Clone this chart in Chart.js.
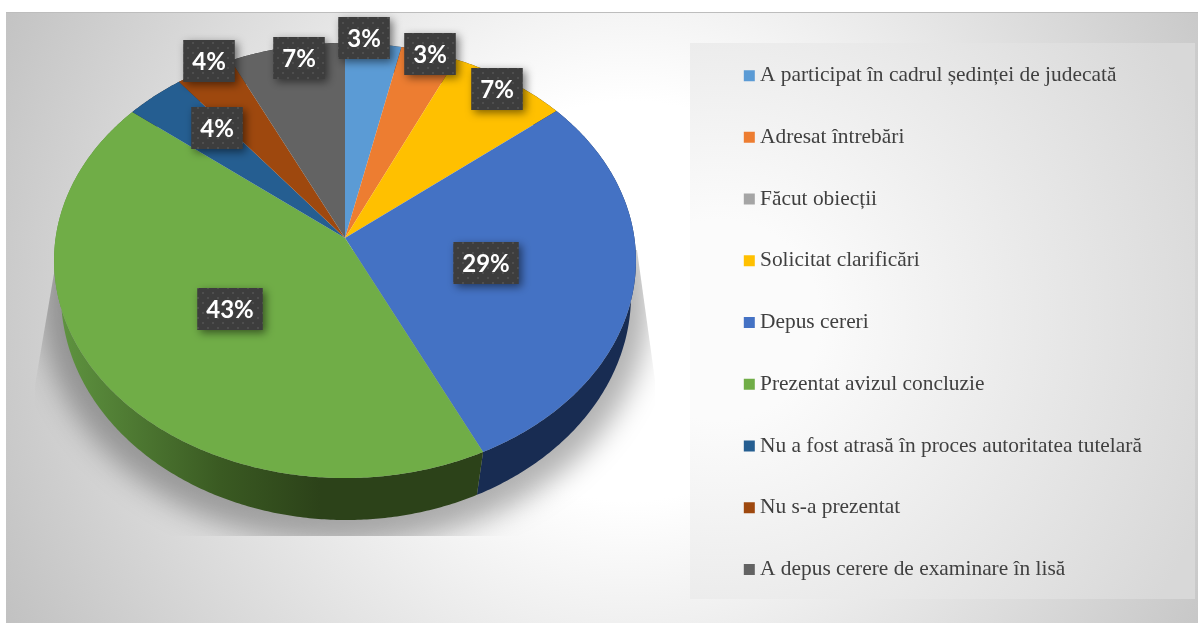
<!DOCTYPE html>
<html>
<head>
<meta charset="utf-8">
<script src="https://cdn.jsdelivr.net/npm/chart.js@4"></script>
<style>
  html, body { margin: 0; background: #fff; overflow: hidden; }
  #slide {
    position: absolute; left: 6px; top: 12px; width: 1192px; height: 611px;
    border-top: 1px solid #bdbdbd; box-sizing: border-box;
    background: radial-gradient(circle 720px at 624px 288px, #fff 0, #fff 200px, #bfbfbf 100%);
  }
  #panel {
    position: absolute; left: 690px; top: 43px; width: 505px; height: 556px;
    background: radial-gradient(circle 520px at 30px 277px, #fbfbfb 0, #fbfbfb 100px, #d8d8d8 100%);
  }
  canvas { position: absolute; left: 0; top: 0; }
</style>
</head>
<body>
<div id="slide"></div>
<div id="panel"></div>
<canvas id="pie" width="1198" height="623"></canvas>
<script>
const categories = [
  'A participat în cadrul ședinței de judecată',
  'Adresat întrebări',
  'Făcut obiecții',
  'Solicitat clarificări',
  'Depus cereri',
  'Prezentat avizul concluzie',
  'Nu a fost atrasă în proces autoritatea tutelară',
  'Nu s-a prezentat',
  'A depus cerere de examinare în lisă'
];
const shares = [3.45, 3.45, 0, 7.3, 28.7, 42.85, 3.65, 3.55, 7.1];

const sliceColors = ['#5b9bd5', '#ed7d31', '#a5a5a5', '#ffc000', '#4472c4', '#70ad47', '#255e91', '#9e480e', '#636363'];
// where the value boxes were dragged to, by slice (centre x, centre y)
const labelSpots = [[364, 38], [430, 54], null, [497, 89], [486, 263], [230, 309], [217, 128], [209, 61], [299, 58]];

// tilted pie: the circle seen in perspective, so the apex is not at the ellipse centre
const topFace = { x: 345, y: 238, rx: 289.4, ry: 215.2, p: -0.1034 };
const lowFace = { x: 346, y: 280, rx: 284.4, ry: 224, p: -0.0667 };

function project(face, a) {
  const k = 1 + face.p * Math.sin(a);
  return [face.x + face.rx * Math.cos(a) / k, face.y + face.ry * Math.sin(a) / k];
}

function rimPoints(face, from, to) {
  const steps = Math.max(2, Math.ceil((to - from) / 0.01));
  const pts = [];
  for (let i = 0; i <= steps; i++) pts.push(project(face, from + (to - from) * i / steps));
  return pts;
}

function tracePoints(ctx, pts) {
  pts.forEach((p, i) => (i ? ctx.lineTo(p[0], p[1]) : ctx.moveTo(p[0], p[1])));
}

function sideColor(ctx, index) {
  if (index === 5) {
    const g = ctx.createLinearGradient(58, 0, 320, 0);
    g.addColorStop(0, '#5f9440');
    g.addColorStop(0.62, '#3a5a22');
    g.addColorStop(1, '#2c4219');
    return g;
  }
  return index === 4 ? '#182c52' : '#333';
}

function drawShadow(ctx) {
  ctx.save();
  ctx.beginPath();
  tracePoints(ctx, [[58, 250], [35, 385], [35, 536], [655, 536], [655, 380], [637, 250]]);
  ctx.closePath();
  ctx.clip();
  ctx.filter = 'blur(14px)';
  ctx.fillStyle = 'rgba(0,0,0,0.3)';
  ctx.beginPath();
  ctx.ellipse(345, 302, 304, 242, 0, 0, Math.PI * 2);
  ctx.fill();
  ctx.restore();
}

const tiltedPie = {
  id: 'tiltedPie',
  afterLayout(chart) {
    chart.legend.left = 749.3 - chart.legend.options.labels.padding;
    chart.legend.top = 24.6;
  },
  beforeDatasetsDraw(chart) {
    const ctx = chart.ctx;
    const arcs = chart.getDatasetMeta(0).data;
    drawShadow(ctx);
    arcs.forEach((arc, i) => {
      if (arc.endAngle - arc.startAngle <= 0) return;
      ctx.fillStyle = sideColor(ctx, i);
      ctx.beginPath();
      tracePoints(ctx, rimPoints(topFace, arc.startAngle, arc.endAngle)
        .concat(rimPoints(lowFace, arc.startAngle, arc.endAngle).reverse()));
      ctx.closePath();
      ctx.fill();
    });
    arcs.forEach(arc => {
      if (arc.endAngle - arc.startAngle <= 0) return;
      ctx.fillStyle = arc.options.backgroundColor;
      ctx.beginPath();
      tracePoints(ctx, [[topFace.x, topFace.y]].concat(rimPoints(topFace, arc.startAngle, arc.endAngle)));
      ctx.closePath();
      ctx.fill();
    });
    return false;
  },
  afterDraw(chart) {
    const ctx = chart.ctx;
    const tile = document.createElement('canvas');
    tile.width = tile.height = 10;
    const t = tile.getContext('2d');
    t.fillStyle = '#3d3d3d';
    t.fillRect(0, 0, 10, 10);
    t.fillStyle = '#4e4e4e';
    t.fillRect(2, 2, 2, 2);
    t.fillRect(7, 7, 2, 2);
    const pattern = ctx.createPattern(tile, 'repeat');

    ctx.save();
    ctx.font = 'bold 24px Lato';
    ctx.textAlign = 'center';
    ctx.textBaseline = 'middle';
    shares.forEach((v, i) => {
      if (!v) return;
      const text = Math.round(v) + '%';
      const [x, y] = labelSpots[i];
      const w = ctx.measureText(text).width + 18;
      ctx.save();
      ctx.shadowColor = 'rgba(0,0,0,0.5)';
      ctx.shadowBlur = 9;
      ctx.shadowOffsetX = 3;
      ctx.shadowOffsetY = 3;
      ctx.fillStyle = pattern;
      ctx.fillRect(x - w / 2, y - 21, w, 42);
      ctx.restore();
      ctx.fillStyle = '#fff';
      ctx.fillText(text, x, y + 1);
    });
    ctx.restore();
  }
};

new Chart(document.getElementById('pie'), {
  type: 'pie',
  data: {
    labels: categories,
    datasets: [{
      data: shares,
      backgroundColor: sliceColors,
      borderWidth: 0
    }]
  },
  plugins: [tiltedPie],
  options: {
    responsive: false,
    animation: false,
    plugins: {
      tooltip: { enabled: false },
      legend: {
        position: 'right',
        align: 'start',
        labels: {
          usePointStyle: true,
          pointStyle: 'rect',
          boxWidth: 0.01,
          boxHeight: 11,
          padding: 40.33,
          color: '#404040',
          font: { family: '"Liberation Serif"', size: 21.4 }
        }
      }
    }
  }
});
</script>
</body>
</html>
